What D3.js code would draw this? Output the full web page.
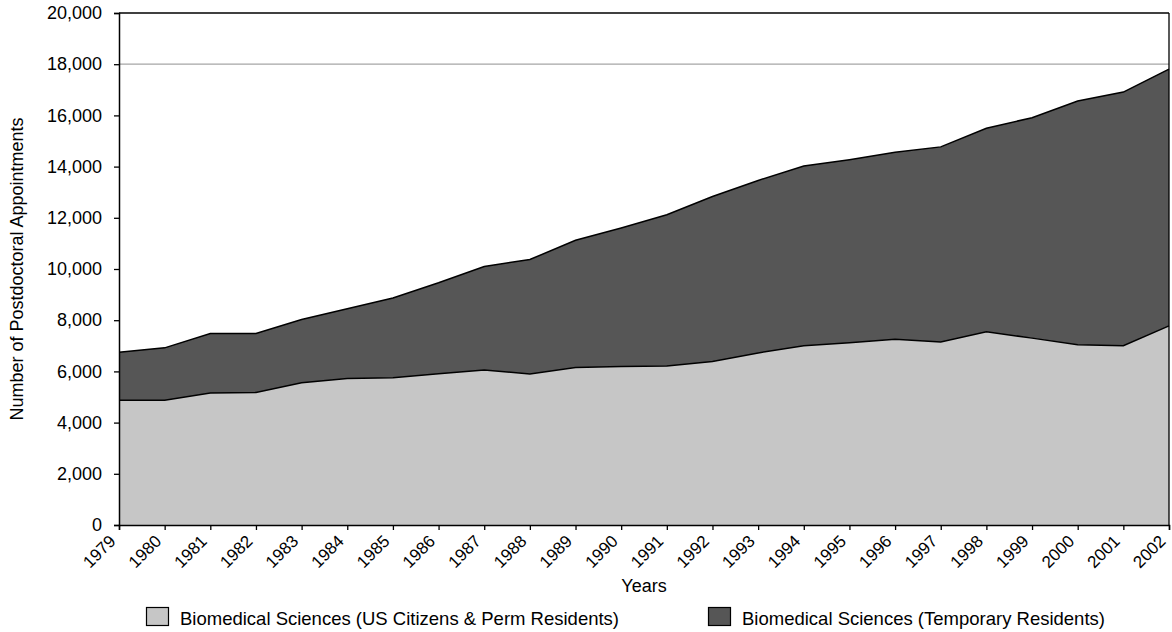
<!DOCTYPE html>
<html>
<head>
<meta charset="utf-8">
<script src="https://cdn.jsdelivr.net/npm/d3@7/dist/d3.min.js"></script>
<style>
  html, body { margin: 0; padding: 0; background: #fff; }
  svg { display: block; font-family: "Liberation Sans", Arial, sans-serif; }
</style>
</head>
<body>
<svg id="chart" width="1172" height="632"></svg>
<script>
const years = [1979,1980,1981,1982,1983,1984,1985,1986,1987,1988,1989,1990,1991,1992,1993,1994,1995,1996,1997,1998,1999,2000,2001,2002];
const usCitizens = [4870,4870,5160,5180,5560,5720,5750,5910,6050,5900,6150,6190,6210,6390,6720,7000,7120,7260,7150,7550,7300,7040,7000,7780];
const totals = [6750,6920,7480,7480,8030,8450,8870,9460,10100,10370,11120,11600,12120,12830,13460,14020,14270,14560,14770,15500,15910,16560,16910,17810];
const temporary = totals.map((t, i) => t - usCitizens[i]);
const yTicks = [0,2000,4000,6000,8000,10000,12000,14000,16000,18000,20000];
const gridValues = [18000];
const seriesNames = ["Biomedical Sciences (US Citizens & Perm Residents)", "Biomedical Sciences (Temporary Residents)"];
const seriesColors = ["#c6c6c6", "#565656"];

const svg = d3.select("#chart");
const L = 119, R = 1169, T = 13, B = 525;

const x = d3.scaleLinear().domain([years[0], years[years.length - 1]]).range([L, R]);
const y = d3.scaleLinear().domain([0, 20000]).range([B, T]);

const rows = years.map((yr, i) => ({ year: yr, us: usCitizens[i], temp: temporary[i] }));
const stack = d3.stack().keys(["us", "temp"]);
const layers = stack(rows);

// gridline
svg.append("g").selectAll("line").data(gridValues).join("line")
  .attr("x1", L).attr("x2", R)
  .attr("y1", d => y(d)).attr("y2", d => y(d))
  .attr("stroke", "#a6a6a6").attr("stroke-width", 1.2);

const area = d3.area().x(d => x(d.data.year)).y0(d => y(d[0])).y1(d => y(d[1]));
const line = d3.line().x(d => x(d.data.year)).y(d => y(d[1]));

svg.append("g").selectAll("path").data(layers).join("path")
  .attr("d", area).attr("fill", (d, i) => seriesColors[i]);
svg.append("g").selectAll("path").data(layers).join("path")
  .attr("d", line).attr("fill", "none").attr("stroke", "#000").attr("stroke-width", 1.5);

// frame top/right
svg.append("line").attr("x1", L).attr("x2", R).attr("y1", T).attr("y2", T).attr("stroke", "#000").attr("stroke-width", 1.3);
svg.append("line").attr("x1", R).attr("x2", R).attr("y1", T).attr("y2", B).attr("stroke", "#000").attr("stroke-width", 1.3);

// y axis
const yAxis = d3.axisLeft(y).tickValues(yTicks).tickSize(5).tickPadding(12).tickFormat(d3.format(","));
const gy = svg.append("g").attr("transform", `translate(${L},0)`).call(yAxis);
gy.select(".domain").attr("stroke-width", 1.5);
gy.selectAll(".tick line").attr("stroke-width", 1.3);
gy.selectAll("text").attr("font-size", 18).attr("fill", "#000")
  .style("font-family", "Liberation Sans, Arial, sans-serif");

// x axis
const xAxis = d3.axisBottom(x).tickValues(years).tickSize(5).tickFormat(d3.format("d"));
const gx = svg.append("g").attr("transform", `translate(0,${B})`).call(xAxis);
gx.select(".domain").attr("stroke-width", 1.5);
gx.selectAll(".tick line").attr("stroke-width", 1.3);
gx.selectAll("text")
  .attr("font-size", 17).attr("fill", "#000")
  .style("font-family", "Liberation Sans, Arial, sans-serif")
  .attr("text-anchor", "end")
  .attr("y", 0).attr("dy", "0.35em")
  .attr("transform", "translate(-7,13) rotate(-45)");

// axis titles
svg.append("text").attr("x", (L + R) / 2).attr("y", 592).attr("text-anchor", "middle")
  .attr("font-size", 18).text("Years");
svg.append("text").attr("transform", `translate(23,${(T + B) / 2}) rotate(-90)`).attr("text-anchor", "middle")
  .attr("font-size", 18).text("Number of Postdoctoral Appointments");

// legend
const legendX = [146, 708];
const lg = svg.append("g").selectAll("g").data(seriesNames).join("g")
  .attr("transform", (d, i) => `translate(${legendX[i]},607)`);
lg.append("rect").attr("x", 0.5).attr("y", 0.5).attr("width", 22).attr("height", 18)
  .attr("fill", (d, i) => seriesColors[i]).attr("stroke", "#000").attr("stroke-width", 1.2);
lg.append("text").attr("x", 34).attr("y", 18).attr("font-size", 18.5).text(d => d);
</script>
</body>
</html>
